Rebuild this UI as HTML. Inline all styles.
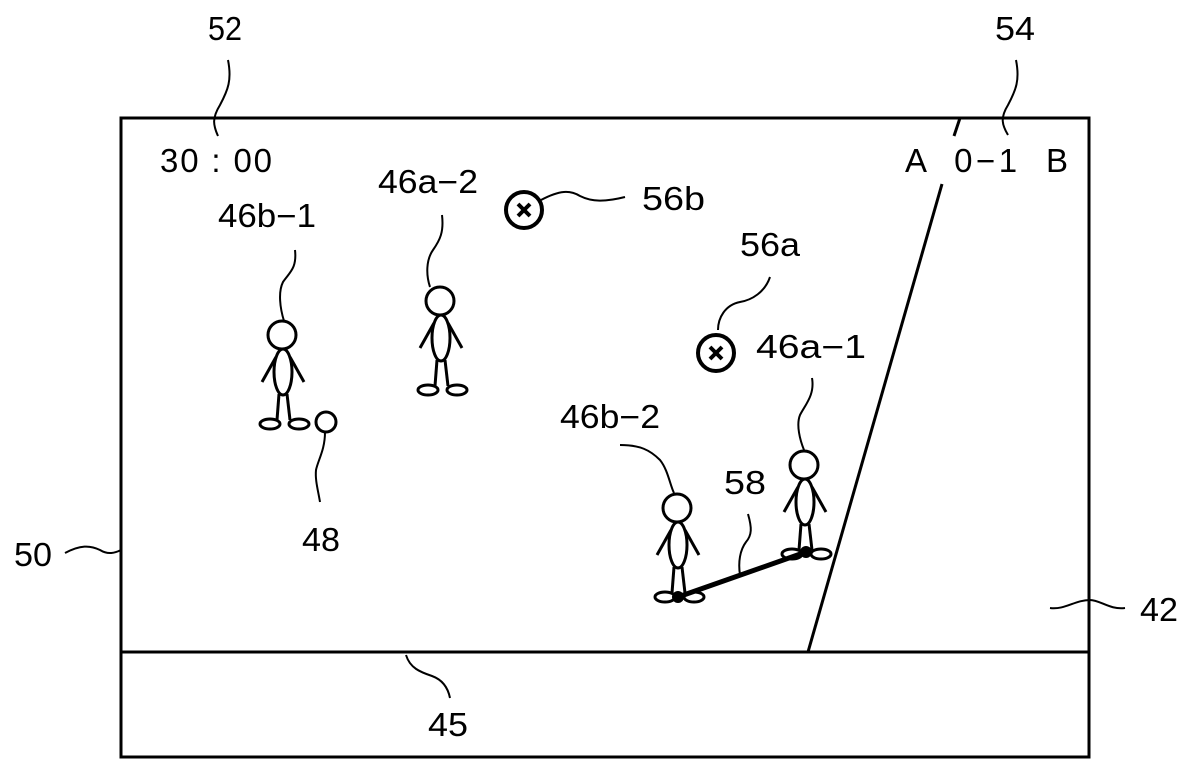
<!DOCTYPE html>
<html><head><meta charset="utf-8"><style>
html,body{margin:0;padding:0;background:#fff;}
svg{display:block;}
text{font-family:"Liberation Sans",sans-serif;font-size:33px;fill:#000;}
</style></head><body>
<svg width="1200" height="777" viewBox="0 0 1200 777" xmlns="http://www.w3.org/2000/svg">
<defs>
<g id="fig" fill="none" stroke="#000" stroke-width="3">
  <circle cx="0" cy="0" r="14" fill="#fff"/>
  <ellipse cx="1" cy="37" rx="9" ry="23"/>
  <line x1="-6" y1="22" x2="-20" y2="47"/>
  <line x1="8" y1="22" x2="22" y2="47"/>
  <line x1="-3" y1="59" x2="-5" y2="85"/>
  <line x1="5" y1="59" x2="8" y2="85"/>
  <ellipse cx="-12" cy="89" rx="10" ry="5"/>
  <ellipse cx="17" cy="89" rx="10" ry="5"/>
</g>
</defs>
<g fill="none" stroke="#000">
  <rect x="121" y="118" width="968" height="639" stroke-width="3"/>
  <line x1="121" y1="652" x2="1089" y2="652" stroke-width="3"/>
  <line x1="960" y1="118" x2="954" y2="136" stroke-width="3"/>
  <line x1="942" y1="184" x2="808" y2="652" stroke-width="3"/>
  <line x1="678" y1="597" x2="806" y2="552" stroke-width="5"/>
  <g stroke-width="2">
    <path d="M228 60 C232 80 228 90 220 105 C212 118 213 125 218 136"/>
    <path d="M1016 60 C1020 80 1016 90 1008 105 C1000 118 1002 125 1008 135"/>
    <path d="M295 250 C297 268 290 272 283 282 C278 292 280 308 284 321"/>
    <path d="M442 215 C444 232 440 240 433 250 C426 260 426 275 430 287"/>
    <path d="M541 200 C560 190 570 190 580 196 C592 202 605 202 625 197"/>
    <path d="M770 277 C765 292 752 300 740 302 C725 305 718 318 718 330"/>
    <path d="M812 378 C815 395 805 405 800 415 C796 425 800 440 804 450"/>
    <path d="M620 445 C640 445 650 450 660 460 C668 470 670 485 674 493"/>
    <path d="M748 514 C752 528 752 535 746 542 C740 550 738 562 740 575"/>
    <path d="M325 432 C325 450 318 460 316 470 C315 480 318 490 320 502"/>
    <path d="M65 553 C80 545 90 545 100 550 C108 555 115 553 121 550"/>
    <path d="M1125 608 C1110 610 1100 600 1090 600 C1075 600 1065 610 1050 608"/>
    <path d="M406 655 C410 668 420 672 432 676 C443 680 448 688 450 698"/>
  </g>
  <circle cx="524" cy="210" r="18" stroke-width="4"/>
  <circle cx="716" cy="353" r="18" stroke-width="4"/>
  <circle cx="326" cy="422" r="10" stroke-width="3" fill="#fff"/>
  <g stroke-width="4">
    <line x1="518" y1="204" x2="530" y2="216"/><line x1="530" y1="204" x2="518" y2="216"/>
    <line x1="710" y1="347" x2="722" y2="359"/><line x1="722" y1="347" x2="710" y2="359"/>
  </g>
</g>
<use href="#fig" x="282" y="335"/>
<use href="#fig" x="440" y="301"/>
<use href="#fig" x="677" y="508"/>
<use href="#fig" x="804" y="465"/>
<circle cx="678" cy="597" r="6" fill="#000"/>
<circle cx="806" cy="552" r="6" fill="#000"/>
<text x="208" y="40" textLength="34" lengthAdjust="spacingAndGlyphs">52</text>
<text x="995" y="40" textLength="40" lengthAdjust="spacingAndGlyphs">54</text>
<text x="160" y="172" textLength="112" lengthAdjust="spacing">30 : 00</text>
<text x="905" y="172" textLength="163" lengthAdjust="spacing" xml:space="preserve">A  0−1  B</text>
<text x="218" y="227" textLength="98" lengthAdjust="spacingAndGlyphs">46b−1</text>
<text x="378" y="193" textLength="100" lengthAdjust="spacingAndGlyphs">46a−2</text>
<text x="642" y="210" textLength="63" lengthAdjust="spacingAndGlyphs">56b</text>
<text x="740" y="256" textLength="60" lengthAdjust="spacingAndGlyphs">56a</text>
<text x="756" y="358" textLength="110" lengthAdjust="spacingAndGlyphs">46a−1</text>
<text x="560" y="428" textLength="100" lengthAdjust="spacingAndGlyphs">46b−2</text>
<text x="724" y="494" textLength="42" lengthAdjust="spacingAndGlyphs">58</text>
<text x="302" y="551" textLength="38" lengthAdjust="spacingAndGlyphs">48</text>
<text x="14" y="566" textLength="38" lengthAdjust="spacingAndGlyphs">50</text>
<text x="1140" y="621" textLength="38" lengthAdjust="spacingAndGlyphs">42</text>
<text x="428" y="736" textLength="40" lengthAdjust="spacingAndGlyphs">45</text>
</svg>
</body></html>
